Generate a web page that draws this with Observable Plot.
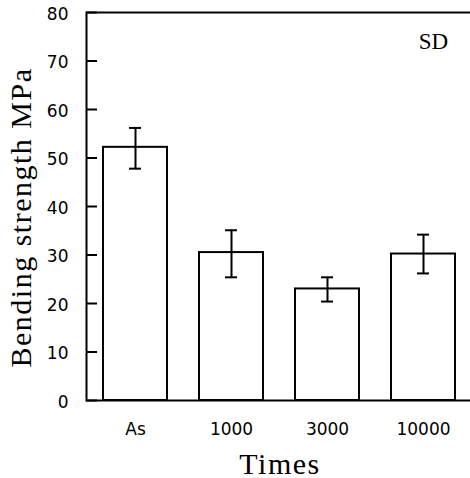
<!DOCTYPE html>
<html>
<head>
<meta charset="utf-8">
<script src="https://cdn.jsdelivr.net/npm/d3@7"></script>
<script src="https://cdn.jsdelivr.net/npm/@observablehq/plot@0.6"></script>
<style>
  html, body { margin: 0; padding: 0; background: white; }
</style>
</head>
<body>
<div id="chart"></div>
<script>
const times = ["As", "1000", "3000", "10000"];
const strength = [52.2, 30.5, 23.0, 30.2];
const errLow = [47.8, 25.4, 20.4, 26.2];
const errHigh = [56.2, 35.1, 25.4, 34.2];
const yTicks = [0, 10, 20, 30, 40, 50, 60, 70, 80];
const yTitle = "Bending strength MPa";
const xTitle = "Times";
const note = "SD";

const data = times.map((t, i) => ({t, v: strength[i], lo: errLow[i], hi: errHigh[i]}));

const sans = "DejaVu Sans, sans-serif";
const serif = "Liberation Serif, Times New Roman, serif";

const chart = Plot.plot({
  width: 470,
  height: 478,
  marginLeft: 86,
  marginRight: -3,
  marginTop: 12,
  marginBottom: 78,
  style: {background: "white", color: "black"},
  x: {domain: times, paddingInner: 0.33, paddingOuter: 0.16, axis: null},
  y: {domain: [0, 80], axis: null},
  marks: [
    Plot.barY(data, {x: "t", y: "v", fill: "white", stroke: "black", strokeWidth: 2}),
    Plot.ruleX(data, {x: "t", y1: "lo", y2: "hi", stroke: "black", strokeWidth: 2}),
    Plot.tickY(data, {x: "t", y: "lo", insetLeft: 26, insetRight: 26, stroke: "black", strokeWidth: 2}),
    Plot.tickY(data, {x: "t", y: "hi", insetLeft: 26, insetRight: 26, stroke: "black", strokeWidth: 2}),
    Plot.axisY({ticks: yTicks, tickSize: -11, text: null, strokeWidth: 2}),
    Plot.axisY({ticks: yTicks, tickSize: 0, tickPadding: 18, dy: 2, fontSize: 17, fontFamily: sans, fill: "black"}),
    Plot.axisX({tickSize: 0, tickPadding: 22, fontSize: 17, fontFamily: sans, fill: "black", label: null}),
    Plot.frame({stroke: "black", strokeWidth: 2}),
    Plot.text([note], {text: d => d, frameAnchor: "top-right", dx: -40, dy: 36, lineAnchor: "bottom", textAnchor: "middle", fontSize: 23, fontFamily: serif, fill: "black"}),
    Plot.text([xTitle], {text: d => d, frameAnchor: "bottom", dy: 73, lineAnchor: "bottom", fontSize: 30, fontFamily: serif, fill: "black"}),
    Plot.text([yTitle], {text: d => d, frameAnchor: "left", rotate: -90, dx: -56, dy: 11, lineAnchor: "bottom", textAnchor: "middle", fontSize: 30, fontFamily: serif, fill: "black"})
  ]
});
d3.select(chart).selectAll("text")
  .filter(function() { return this.textContent === yTitle || this.textContent === xTitle; })
  .style("letter-spacing", "1.5px");
document.getElementById("chart").appendChild(chart);
</script>
</body>
</html>
